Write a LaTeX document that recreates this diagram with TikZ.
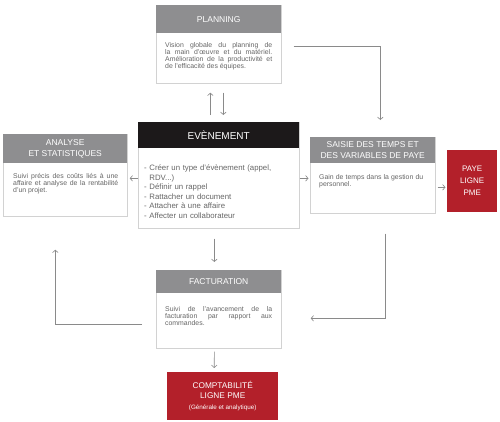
\documentclass[tikz,border=0pt]{standalone}
\usepackage{fontspec}
\setmainfont{Liberation Sans}
\usetikzlibrary{arrows.meta,calc}
\definecolor{hdrgray}{HTML}{8E8E90}
\definecolor{boxline}{HTML}{D2D2D2}
\definecolor{txtgray}{HTML}{666666}
\definecolor{arrgray}{HTML}{8A8A8A}
\definecolor{redbox}{HTML}{B3202A}
\definecolor{evblack}{HTML}{1C191A}
\begin{document}
\begin{tikzpicture}[x=1pt,y=-1pt,
 frame/.style={draw=boxline, line width=0.7pt, fill=white, inner sep=0pt, anchor=north west},
 hdr/.style={fill=hdrgray, text=white, inner sep=0pt, anchor=north west, align=center, font=\fontsize{8.5}{11}\selectfont},
 bodytxt/.style={text=txtgray, inner sep=0pt, anchor=north west, align=justify, font=\fontsize{6.9}{7.1}\selectfont},
 arr/.style={draw=arrgray, line width=0.6pt, -{Straight Barb[length=2.5pt,width=5.5pt]}},
 redbx/.style={fill=redbox, text=white, inner sep=0pt, align=center, anchor=north west}
]
\useasboundingbox[fill=white] (0,0) rectangle (500,421);

% PLANNING
\node[frame, minimum width=125pt, minimum height=78pt] (plan) at (156,5) {};
\node[hdr, minimum width=125pt, minimum height=28pt] (planh) at (plan.north west) {PLANNING};
\node[bodytxt, text width=107pt] (planb) at ([xshift=9pt,yshift=-8.5pt]planh.south west)
 {Vision globale du planning de\linebreak la main d'œuvre et du matériel.\linebreak Amélioration de la productivité et\linebreak de l'efficacité des équipes.};

% ANALYSE
\node[frame, minimum width=124pt, minimum height=82pt] (ana) at (3,134) {};
\node[hdr, minimum width=124pt, minimum height=29pt] (anah) at (ana.north west) {ANALYSE\\ET STATISTIQUES};
\node[bodytxt, text width=105pt] (anab) at ([xshift=10pt,yshift=-9.5pt]anah.south west)
 {Suivi précis des coûts liés à une\linebreak affaire et analyse de la rentabilité\linebreak d'un projet.};

% EVENEMENT
\node[frame, minimum width=161pt, minimum height=106pt] (event) at (138,122) {};
\node[hdr, fill=evblack, font=\fontsize{10}{12}\selectfont, minimum width=161pt, minimum height=26pt] (eventh) at (event.north west) {EVÈNEMENT};
\node[bodytxt, align=left, text width=150pt, font=\fontsize{7.8}{9.5}\selectfont] (eventb) at ([xshift=6pt,yshift=-16.5pt]eventh.south west)
 {- Créer un type d'évènement (appel,\\\phantom{- }RDV...)\\- Définir un rappel\\- Rattacher un document\\- Attacher à une affaire\\- Affecter un collaborateur};

% SAISIE
\node[frame, minimum width=125pt, minimum height=76pt] (saisie) at (310,137) {};
\node[hdr, minimum width=125pt, minimum height=26pt] (saisieh) at (saisie.north west) {SAISIE DES TEMPS ET\\DES VARIABLES DE PAYE};
\node[bodytxt, text width=104pt] (saisieb) at ([xshift=9pt,yshift=-10.5pt]saisieh.south west)
 {Gain de temps dans la gestion du\linebreak personnel.};

% PAYE
\node[redbx, minimum width=50pt, minimum height=62pt, font=\fontsize{8}{12}\selectfont] (paye) at (447,150) {PAYE\\LIGNE\\PME};

% FACTURATION
\node[frame, minimum width=125pt, minimum height=78pt] (fact) at (156,270) {};
\node[hdr, minimum width=125pt, minimum height=23pt] (facth) at (fact.north west) {FACTURATION};
\node[bodytxt, text width=107pt] (factb) at ([xshift=9pt,yshift=-12.5pt]facth.south west)
 {Suivi de l'avancement de la\linebreak facturation par rapport aux\linebreak commandes.};

% COMPTABILITE
\node[redbx, minimum width=111pt, minimum height=48pt, font=\fontsize{8.3}{10}\selectfont] (compta) at (167,372)
 {COMPTABILITÉ\\LIGNE PME\\[1pt]\fontsize{6.3}{8}\selectfont(Générale et analytique)};

% connectors
\draw[arr] ([xshift=-8.5pt,yshift=7pt]event.north) -- ([xshift=-8.5pt,yshift=-9pt]plan.south);
\draw[arr] ([xshift=4.5pt,yshift=-9pt]plan.south) -- ([xshift=4.5pt,yshift=7pt]event.north);
\draw[arr] ([yshift=-3pt]event.west) -- ([xshift=2pt,yshift=-3pt]ana.east);
\draw[arr] ([yshift=-3pt]event.east) -- ([xshift=-1.5pt,yshift=-3pt]saisie.west);
\draw[arr] ([xshift=2pt,yshift=-12pt]saisie.east) -- ([xshift=-1.5pt,yshift=-12pt]saisie.east -| paye.west);
\draw[arr] ([xshift=12pt,yshift=-2pt]plan.east) -| ([xshift=7.5pt,yshift=17pt]saisie.north);
\draw[arr] ([xshift=12.5pt,yshift=-20pt]saisie.south) |- ([xshift=29pt,yshift=-9pt]fact.east);
\draw[arr] ([xshift=-4.5pt,yshift=-10pt]event.south) -- ([xshift=-4.5pt,yshift=8pt]fact.north);
\draw[arr] ([xshift=-14pt,yshift=-15pt]fact.west) -| ([xshift=-10pt,yshift=-33pt]ana.south);
\draw[arr] ([xshift=-4.5pt,yshift=-3pt]fact.south) -- ([xshift=-8.5pt,yshift=4pt]compta.north);
\end{tikzpicture}
\end{document}
